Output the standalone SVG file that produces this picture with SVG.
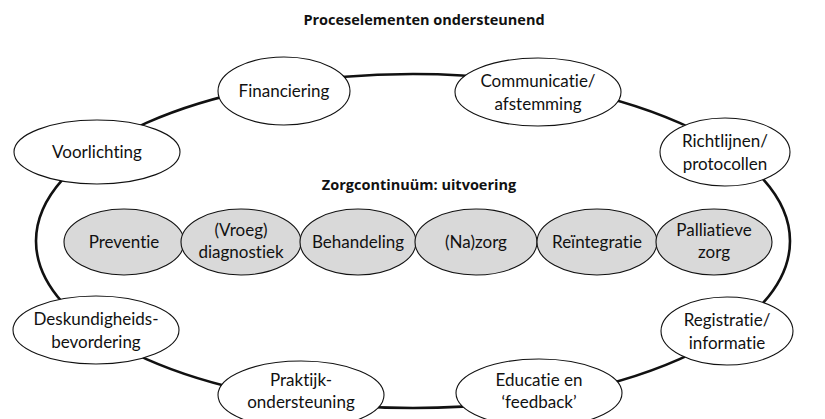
<svg xmlns="http://www.w3.org/2000/svg" width="825" height="419" viewBox="0 0 825 419">
  <style>
    text { font-family: Lato, "Liberation Sans", sans-serif; font-size: 17px; fill: #111; text-anchor: middle; font-variant-ligatures: none; }
    .head { font-family: "Open Sans", "Liberation Sans", sans-serif; font-weight: bold; font-size: 14.5px; }
    .outer { fill: #fff; stroke: #111; stroke-width: 1.1; }
    .inner { fill: #d9d9d9; stroke: #111; stroke-width: 1.1; }
    .ring { fill: none; stroke: #111; stroke-width: 2.6; }
  </style>
  <rect width="825" height="419" fill="#fff"/>

  <text class="head" x="424" y="25">Proceselementen ondersteunend</text>

  <g id="connectors">
    <ellipse class="ring" cx="413" cy="241" rx="377" ry="167"/>
  </g>

  <g id="financiering">
    <ellipse class="outer" cx="284" cy="91" rx="66" ry="34"/>
    <text x="284" y="97">Financiering</text>
  </g>
  <g id="communicatie">
    <ellipse class="outer" cx="538" cy="92" rx="83" ry="34"/>
    <text x="538" y="87">Communicatie/</text>
    <text x="538" y="110">afstemming</text>
  </g>
  <g id="richtlijnen">
    <ellipse class="outer" cx="725" cy="152" rx="65" ry="34"/>
    <text x="725" y="147">Richtlijnen/</text>
    <text x="725" y="170">protocollen</text>
  </g>
  <g id="voorlichting">
    <ellipse class="outer" cx="97" cy="152" rx="83" ry="32"/>
    <text x="97" y="158">Voorlichting</text>
  </g>

  <text class="head" x="419" y="190">Zorgcontinuüm: uitvoering</text>

  <g id="preventie">
    <ellipse class="inner" cx="124" cy="242" rx="60" ry="33"/>
    <text x="124" y="248">Preventie</text>
  </g>
  <g id="diagnostiek">
    <ellipse class="inner" cx="241" cy="242" rx="60" ry="33"/>
    <text x="241" y="236">(Vroeg)</text>
    <text x="241" y="258">diagnostiek</text>
  </g>
  <g id="behandeling">
    <ellipse class="inner" cx="358" cy="242" rx="58" ry="33"/>
    <text x="358" y="248">Behandeling</text>
  </g>
  <g id="nazorg">
    <ellipse class="inner" cx="476" cy="242" rx="61" ry="33"/>
    <text x="476" y="248">(Na)zorg</text>
  </g>
  <g id="reintegratie">
    <ellipse class="inner" cx="597" cy="242" rx="60" ry="33"/>
    <text x="597" y="248">Reïntegratie</text>
  </g>
  <g id="palliatieve-zorg">
    <ellipse class="inner" cx="714" cy="242" rx="58" ry="33"/>
    <text x="714" y="236">Palliatieve</text>
    <text x="714" y="258">zorg</text>
  </g>

  <g id="deskundigheid">
    <ellipse class="outer" cx="96" cy="330" rx="83" ry="34"/>
    <text x="96" y="325">Deskundigheids-</text>
    <text x="96" y="348">bevordering</text>
  </g>
  <g id="registratie">
    <ellipse class="outer" cx="727" cy="331" rx="66" ry="34"/>
    <text x="727" y="326">Registratie/</text>
    <text x="727" y="349">informatie</text>
  </g>
  <g id="praktijk">
    <ellipse class="outer" cx="301" cy="395" rx="83" ry="34"/>
    <text x="301" y="386">Praktijk-</text>
    <text x="301" y="408">ondersteuning</text>
  </g>
  <g id="educatie">
    <ellipse class="outer" cx="539" cy="393" rx="83" ry="34"/>
    <text x="539" y="386">Educatie en</text>
    <text x="539" y="408">‘feedback’</text>
  </g>
</svg>
